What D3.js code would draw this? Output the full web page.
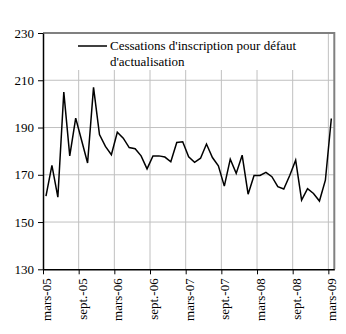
<!DOCTYPE html>
<html>
<head>
<meta charset="utf-8">
<script src="https://cdn.jsdelivr.net/npm/d3@7"></script>
<style>
  html, body { margin: 0; padding: 0; background: #fff; }
  svg { display: block; }
</style>
</head>
<body>
<svg id="chart" width="346" height="334"></svg>
<script>
// Monthly series, mars-05 .. mars-09 (49 months)
const months = [
  "mars-05","avr.-05","mai-05","juin-05","juil.-05","août-05","sept.-05","oct.-05","nov.-05","déc.-05","janv.-06","févr.-06",
  "mars-06","avr.-06","mai-06","juin-06","juil.-06","août-06","sept.-06","oct.-06","nov.-06","déc.-06","janv.-07","févr.-07",
  "mars-07","avr.-07","mai-07","juin-07","juil.-07","août-07","sept.-07","oct.-07","nov.-07","déc.-07","janv.-08","févr.-08",
  "mars-08","avr.-08","mai-08","juin-08","juil.-08","août-08","sept.-08","oct.-08","nov.-08","déc.-08","janv.-09","févr.-09",
  "mars-09"
];
const values = [
  161, 174, 160.5, 205, 178, 194, 184.5, 175, 207, 187, 182, 178.5,
  188, 185.5, 181.5, 181, 178, 172.5, 178, 178, 177.5, 175.5, 183.7, 184,
  177.6, 175.3, 177, 183, 177.3, 173.8, 165.2, 176.6, 170.6, 178.3, 161.8, 169.7,
  169.7, 171, 169.2, 165, 164, 169.7, 176.2, 159.3, 164.1, 162.1, 158.9, 167.7,
  193.8
];
const tickLabels = ["mars-05","sept.-05","mars-06","sept.-06","mars-07","sept.-07","mars-08","sept.-08","mars-09"];
const yTicks = [130, 150, 170, 190, 210, 230];
const legendLines = ["Cessations d'inscription pour défaut", "d'actualisation"];

const FONT = "'Liberation Serif', 'Times New Roman', Times, serif";
const svg = d3.select("#chart");
const L = 43, R = 334.3, T = 33, B = 269.3;

const x = d3.scaleLinear().domain([0, months.length]).range([L, R]);
const y = d3.scaleLinear().domain([130, 230]).range([B, T]);
const tickIdx = tickLabels.map((d, i) => i * 6);

// horizontal gridlines
svg.append("g").selectAll("line").data(yTicks.filter(v => v > 130 && v < 230)).join("line")
  .attr("x1", L).attr("x2", R).attr("y1", d => y(d)).attr("y2", d => y(d))
  .attr("stroke", "#c0c0c0").attr("stroke-width", 1);

// vertical gridlines
svg.append("g").selectAll("line").data(tickIdx.filter(i => i > 0)).join("line")
  .attr("x1", d => x(d)).attr("x2", d => x(d)).attr("y1", T).attr("y2", B)
  .attr("stroke", "#c0c0c0").attr("stroke-width", 1);

// legend box (white background hiding gridlines)
svg.append("rect").attr("x", 70).attr("y", T + 1).attr("width", 255).attr("height", 36)
  .attr("fill", "#fff");

// frame top/right (gray)
svg.append("line").attr("x1", L).attr("x2", R).attr("y1", T).attr("y2", T)
  .attr("stroke", "#808080").attr("stroke-width", 2);
svg.append("line").attr("x1", R).attr("x2", R).attr("y1", T - 1).attr("y2", B)
  .attr("stroke", "#808080").attr("stroke-width", 2);

// axes
const yAxis = d3.axisLeft(y).tickValues(yTicks).tickSize(5).tickSizeOuter(0).tickPadding(4);
const gy = svg.append("g").attr("transform", `translate(${L},0)`).call(yAxis);
gy.attr("font-family", null).attr("font-size", null);
gy.select(".domain").attr("stroke", "#000").attr("stroke-width", 1.5);
gy.selectAll(".tick line").attr("stroke", "#000");
gy.selectAll(".tick text").style("font-family", FONT).style("font-size", "13px").attr("fill", "#000");

const xAxis = d3.axisBottom(x).tickValues(tickIdx).tickSize(5).tickSizeOuter(0)
  .tickFormat((d, i) => tickLabels[i]);
const gx = svg.append("g").attr("transform", `translate(0,${B})`).call(xAxis);
gx.attr("font-family", null).attr("font-size", null);
gx.select(".domain").attr("stroke", "#000").attr("stroke-width", 1.5);
gx.selectAll(".tick line").attr("stroke", "#000");
gx.selectAll(".tick text")
  .style("font-family", FONT).style("font-size", "13px").attr("fill", "#000")
  .attr("text-anchor", "end")
  .attr("transform", "rotate(-90)")
  .attr("x", -9).attr("y", 3).attr("dy", "0.35em");

// data line
const line = d3.line().x((d, i) => x(i + 0.5)).y(d => y(d));
svg.append("path").datum(values).attr("d", line)
  .attr("fill", "none").attr("stroke", "#000").attr("stroke-width", 1.5)
  .attr("stroke-linejoin", "miter");

// legend
svg.append("line").attr("x1", 78).attr("x2", 107).attr("y1", 46).attr("y2", 46)
  .attr("stroke", "#000").attr("stroke-width", 1.5);
svg.append("g").selectAll("text").data(legendLines).join("text")
  .attr("x", 110).attr("y", (d, i) => 50 + i * 16)
  .style("font-family", FONT).style("font-size", "13px").attr("fill", "#000")
  .text(d => d);
</script>
</body>
</html>
